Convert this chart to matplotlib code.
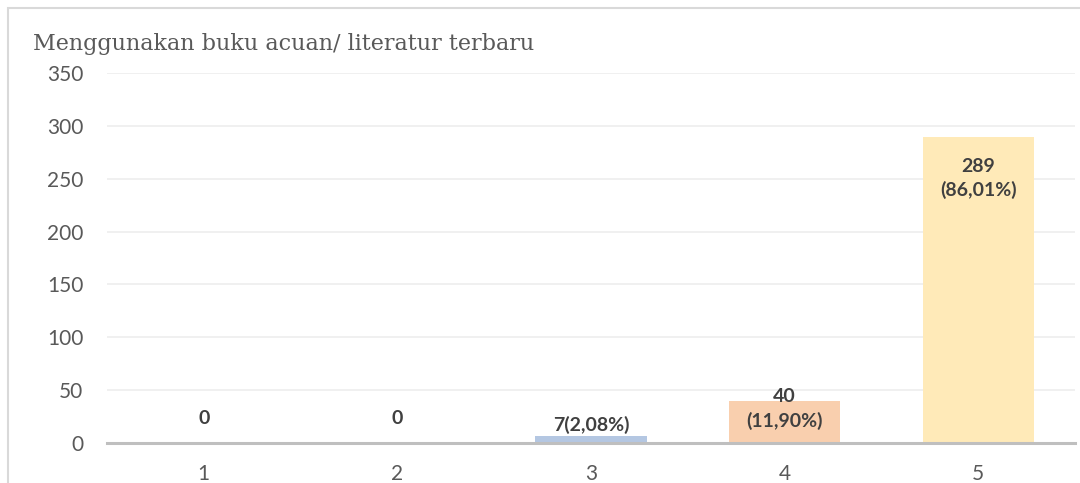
import matplotlib
matplotlib.use("Agg")
import matplotlib.pyplot as plt
from matplotlib.patches import Rectangle

categories = ["1", "2", "3", "4", "5"]
values = [0, 0, 7, 40, 289]
labels = ["0", "0", "7(2,08%)", "40\n(11,90%)", "289\n(86,01%)"]
colors = ["#b4c7e2", "#b4c7e2", "#b4c7e2", "#f9cfae", "#ffeab8"]
yticks = [0, 50, 100, 150, 200, 250, 300, 350]
title = "Menggunakan buku acuan/ literatur terbaru"

W, H = 1080, 483
fig = plt.figure(figsize=(W / 100, H / 100), dpi=100)
fig.patch.set_facecolor("white")

# outer chart frame (cropped at right/bottom)
fig.patches.append(Rectangle((8 / W, -0.1), 1.2, 1 - 8 / H + 0.1, transform=fig.transFigure,
                             fill=False, edgecolor="#d9d9d9", linewidth=1.5))

ax = fig.add_axes([107 / W, 1 - 443 / H, (1075 - 107) / W, (443 - 73) / H])
x = list(range(len(categories)))
ax.bar(x, values, width=0.575, color=colors, zorder=2)
ax.set_xlim(-0.5, len(categories) - 0.5)
ax.set_ylim(0, 350)
ax.set_yticks(yticks)
ax.set_xticks(x)
ax.set_xticklabels(categories)
ax.yaxis.grid(True, color="#eeeeee", linewidth=1.2, zorder=0)
for s in ["top", "right", "left"]:
    ax.spines[s].set_visible(False)
ax.spines["bottom"].set_color("#bfbfbf")
ax.spines["bottom"].set_linewidth(2.2)
ax.spines["bottom"].set_zorder(3)
ax.tick_params(length=0, labelsize=15, labelcolor="#595959")
ax.tick_params(axis="x", pad=15)
ax.tick_params(axis="y", pad=17)
for t in ax.get_xticklabels() + ax.get_yticklabels():
    t.set_family("Lato")

# label centre offsets from bar top, in pixels (style)
offsets = [25, 25, 10.5, -8, -41]
for xi, v, lab, off in zip(x, values, labels, offsets):
    ax.annotate(lab, (xi, v), xytext=(0, off * 0.72), textcoords="offset points",
                ha="center", va="center",
                fontsize=14, fontweight="bold", color="#404040", family="Lato",
                linespacing=1.45, zorder=4)

fig.text(33 / W, 1 - 44 / H, title, fontsize=16, color="#595959",
         family="DejaVu Serif", va="center", ha="left")

fig.savefig("out.png", dpi=100)
